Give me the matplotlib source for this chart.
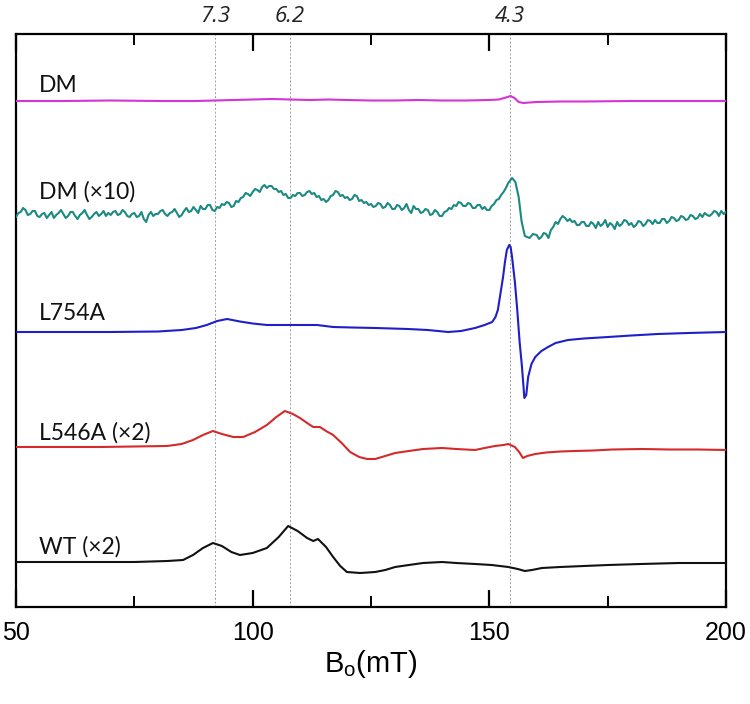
import matplotlib
matplotlib.use("Agg")
import matplotlib.pyplot as plt

# ---- data (field in mT, signal in arbitrary units with vertical offsets) ----
dm_x = [50, 60, 70, 80, 88, 92, 96, 100, 104, 108, 112, 116, 120, 125, 130, 135, 140, 145, 150, 152, 153.5,
        154.5, 155.3, 156.2, 157.2, 158.5, 160, 165, 170, 180, 190, 200]
dm_y = [506, 506, 506.5, 506, 506, 506.5, 507, 507.5, 508, 507.5, 507, 507.5, 507, 506.5, 506.5, 507, 506.5,
        506.5, 507, 507.5, 509.5, 511, 509, 505, 504, 504.5, 505, 505.5, 505.5, 506, 506, 506]

# DM (x10): read every 0.5 mT from 50 to 153.5, the 4.3 feature, then every 0.5 mT from 160 to 200
dm10_a = [390, 394, 395, 399, 397, 392, 393, 396, 396, 391, 390, 393, 394, 389, 392, 395, 389, 392, 394, 397,
          393, 389, 391, 395, 395, 391, 388, 392, 394, 397, 392, 388, 390, 393, 395, 391, 393, 396, 391, 394,
          392, 395, 396, 392, 393, 397, 395, 391, 390, 393, 394, 390, 391, 395, 388, 385, 392, 395, 391, 393,
          393, 396, 397, 393, 391, 394, 395, 398, 394, 390, 392, 396, 399, 395, 396, 400, 397, 394, 401, 398,
          398, 402, 402, 397, 396, 400, 399, 403, 402, 405, 404, 400, 401, 406, 405, 409, 410, 414, 413, 411,
          415, 418, 417, 415, 420, 422, 419, 421, 421, 418, 418, 415, 416, 412, 413, 409, 409, 412, 411, 414,
          414, 411, 412, 415, 416, 413, 414, 410, 411, 407, 408, 405, 407, 411, 412, 416, 415, 411, 412, 409,
          410, 407, 408, 412, 411, 406, 407, 404, 405, 402, 403, 400, 401, 404, 403, 399, 400, 404, 402, 398,
          398, 402, 401, 397, 399, 403, 397, 394, 401, 398, 398, 394, 395, 398, 397, 392, 393, 397, 395, 391,
          391, 395, 396, 399, 398, 402, 401, 405, 404, 401, 401, 404, 403, 399, 399, 402, 402, 398, 400, 397,
          397, 401, 403, 407, 408, 412, 415, 419]
dm10_b_x = [154, 154.8, 155.5, 156.2, 156.8, 157.5, 158.5, 159.2]
dm10_b = [424, 429, 425, 410, 386, 371, 369, 373]
dm10_c = [372, 368, 370, 374, 373, 369, 377, 380, 385, 383, 388, 391, 389, 386, 388, 385, 386, 382, 382, 385,
          385, 381, 381, 385, 383, 379, 385, 381, 383, 387, 380, 384, 382, 378, 385, 381, 383, 387, 386, 382,
          384, 380, 382, 386, 385, 381, 383, 387, 386, 383, 387, 384, 384, 388, 388, 384, 386, 390, 389, 386,
          387, 391, 390, 387, 388, 392, 391, 388, 389, 393, 390, 394, 392, 391, 393, 396, 395, 391, 396, 393, 395]
dm10_x = [50 + 0.5 * i for i in range(len(dm10_a))] + dm10_b_x + [160 + 0.5 * i for i in range(len(dm10_c))]
dm10_y = dm10_a + dm10_b + dm10_c

l754_x = [50, 60, 70, 80, 85, 88, 90.3, 92.5, 94.6, 97.3, 100, 103, 108, 113.6, 117, 121, 125.9, 132.8, 137,
          141.3, 144, 147, 149, 150.6, 151.3, 151.8, 152.4, 152.9, 153.3, 153.7, 154.2, 154.5, 154.8, 155.4,
          155.9, 156.4, 156.9, 157.4, 157.8, 158.2, 158.9, 159.7, 161, 162.4, 164, 166.6, 170, 175.1, 180,
          185.6, 192, 200]
l754_y = [275, 275, 275, 275.5, 277, 279, 282, 286, 288, 285.5, 283.5, 282, 282, 282, 280, 279.5, 279, 278,
          277, 275, 276, 279, 282, 285, 290, 297, 315, 330, 345, 357, 362, 360, 350, 325, 297, 265, 240, 209,
          212, 230, 243, 250, 256, 260, 264, 267, 268.5, 270, 271.5, 273, 274, 275]

l546_x = [50, 60, 67.7, 75, 81.9, 85, 87.4, 89.5, 91.6, 93.5, 95.9, 98, 100.5, 103, 105, 106.8, 108.5, 110,
          111.5, 112.8, 114.2, 115.5, 117, 118.8, 120.6, 122.5, 124.2, 125.9, 128, 130.1, 133, 136, 140, 143,
          147, 149, 151.2, 153, 154, 155.4, 156.3, 157.1, 158, 159.7, 162, 165, 168.1, 172, 176, 182.3, 188,
          194, 200]
l546_y = [160, 160, 160, 160.5, 161, 163, 167, 172, 176, 173, 170, 170, 175, 182, 190, 196, 193, 189, 184,
          180, 180, 176, 172, 164, 155, 150, 148, 148, 151, 154, 156, 158, 159, 158, 157, 159, 161, 162, 163,
          160, 155, 149, 151, 153, 154.5, 155.5, 156, 156.5, 157.5, 158, 157.5, 157.5, 157]

wt_x = [50, 60, 67.7, 75, 82, 85.3, 87.4, 89.5, 91.6, 93.5, 95.5, 97.3, 100, 103, 105.5, 107.5, 109.5, 111.5,
        112.8, 113.8, 115.5, 117, 118.5, 119.9, 122.7, 125.9, 128, 130.1, 133, 136, 140, 143, 147, 150.5,
        154, 156, 157.5, 159, 161.1, 165, 170, 175.1, 182, 190, 200]
wt_y = [45, 45, 45, 45, 46, 47, 52, 59, 64, 61, 55, 52, 54, 59, 70, 81, 76, 69, 66, 68, 60, 50, 41, 35,
        34, 35, 37, 40, 42, 44, 45, 44, 43, 42, 40, 38, 36, 37, 39, 40, 41, 42, 43, 44, 44]

series_names = ["DM", "DM (\u00d710)", "L754A", "L546A (\u00d72)", "WT (\u00d72)"]
series_x = [dm_x, dm10_x, l754_x, l546_x, wt_x]
series_y = [dm_y, dm10_y, l754_y, l546_y, wt_y]
series_colors = ["#d633d6", "#1a8a82", "#1f1fc8", "#d42a2a", "#111111"]
label_y = [522, 415, 294, 174, 60]

g_labels = ["7.3", "6.2", "4.3"]
g_fields = [92.0, 107.9, 154.4]

x_ticks = [50, 100, 150, 200]
x_minor = [75, 125, 175]

# ---- figure ----
fig = plt.figure(figsize=(7.5, 7.04), dpi=100)
ax = fig.add_axes([16 / 750, 1 - 607 / 704, 710 / 750, 573 / 704])
ax.set_xlim(50, 200)
ax.set_ylim(0, 573)

for gx in g_fields:
    ax.axvline(gx, color="#a0a0a0", lw=0.7, ls=(0, (2, 2)), zorder=1)

for name, xs, ys, col, ly in zip(series_names, series_x, series_y, series_colors, label_y):
    ax.plot(xs, ys, color=col, lw=1.5, zorder=3)
    ax.text(54.8, ly, name, fontsize=16.5, family=["Lato", "DejaVu Sans"], color="#111111",
            ha="left", va="center")

ax.set_xticks(x_ticks)
ax.set_xticks(x_minor, minor=True)
ax.set_yticks([])
ax.tick_params(axis="x", which="major", direction="in", length=12, width=1.6, top=True, bottom=True,
               pad=10)
ax.tick_params(axis="x", which="minor", direction="in", length=8, width=1.4, top=True, bottom=True)
for lab in ax.get_xticklabels():
    lab.set_family(["Liberation Sans", "DejaVu Sans"])
    lab.set_fontsize(18)
for sp in ax.spines.values():
    sp.set_linewidth(1.6)

ax.set_xlabel("B$_\\mathregular{o}$(mT)", fontsize=21, family=["Liberation Sans", "DejaVu Sans"],
              labelpad=2)

for lab, gx in zip(g_labels, g_fields):
    ax.text(gx, 1.0 + 17 / 573, lab, transform=ax.get_xaxis_transform(), ha="center", va="center",
            fontsize=16, style="italic", family=["Open Sans", "DejaVu Sans"], color="#222222")

fig.savefig("out.png", dpi=100)
